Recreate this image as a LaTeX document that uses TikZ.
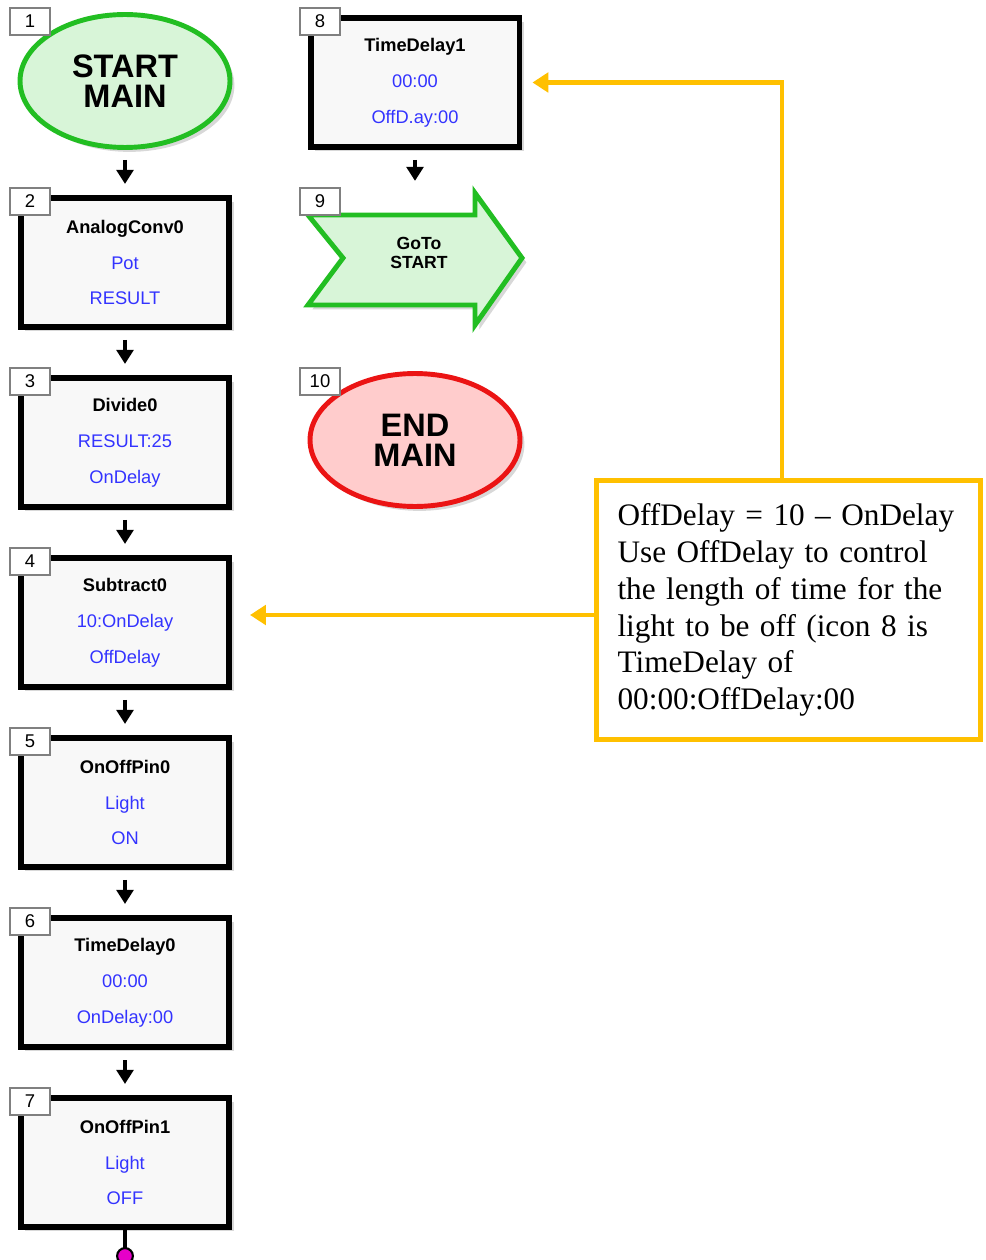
\documentclass[tikz,border=0pt]{standalone}
\usepackage{fontspec}
\setmainfont{Liberation Sans}
\newfontfamily\notefont{Liberation Serif}
\usetikzlibrary{arrows.meta,shapes.geometric,shadows}

\definecolor{startgreen}{RGB}{34,190,34}
\definecolor{startfill}{RGB}{216,245,216}
\definecolor{endred}{RGB}{235,20,20}
\definecolor{endfill}{RGB}{255,204,204}
\definecolor{iconblue}{RGB}{51,51,255}
\definecolor{iconfill}{RGB}{248,248,248}
\definecolor{noteorange}{RGB}{255,192,0}
\definecolor{pinmagenta}{RGB}{230,0,200}

\tikzset{
	softshadow/.style={drop shadow={opacity=0.3, shadow xshift=2.5pt, shadow yshift=-2.5pt}},
	icon/.style={draw=black, line width=3.4pt, fill=iconfill, softshadow, minimum width=4.18cm, minimum height=2.58cm, align=center, font=\fontsize{10.4}{20.4}\selectfont},
	terminal/.style={ellipse, line width=2.8pt, softshadow, minimum width=4.2cm, minimum height=2.66cm, align=center, inner sep=0pt, font=\bfseries\fontsize{18.5}{17}\selectfont},
	tag/.style={draw=gray, fill=white, line width=0.6pt, minimum width=0.8cm, minimum height=0.54cm, inner sep=0pt, font=\fontsize{10.5}{12}\selectfont},
	flowarrow/.style={line width=2.6pt, -{Triangle[width=9.5pt,length=8pt]}, shorten <=5.7pt, shorten >=6.3pt},
	noteline/.style={draw=noteorange, line width=2.8pt, -{Triangle[width=11pt,length=9pt]}},
}

\begin{document}
\begin{tikzpicture}[x=0.02cm, y=-0.02cm]
	\fill[white] (0,0) rectangle (985,1260);
	\useasboundingbox (0,0) rectangle (985,1260);
	
	% main column
	\node[terminal, draw=startgreen, fill=startfill] (start) at (125,81) {START\\MAIN};
	\node[icon] (b2) at (125,262.5) {\textbf{AnalogConv0}\\\textcolor{iconblue}{Pot}\\\textcolor{iconblue}{RESULT}};
	\node[icon] (b3) at (125,442.5) {\textbf{Divide0}\\\textcolor{iconblue}{RESULT:25}\\\textcolor{iconblue}{OnDelay}};
	\node[icon] (b4) at (125,622.5) {\textbf{Subtract0}\\\textcolor{iconblue}{10:OnDelay}\\\textcolor{iconblue}{OffDelay}};
	\node[icon] (b5) at (125,802.5) {\textbf{OnOffPin0}\\\textcolor{iconblue}{Light}\\\textcolor{iconblue}{ON}};
	\node[icon] (b6) at (125,982.5) {\textbf{TimeDelay0}\\\textcolor{iconblue}{00:00}\\\textcolor{iconblue}{OnDelay:00}};
	\node[icon] (b7) at (125,1162.5) {\textbf{OnOffPin1}\\\textcolor{iconblue}{Light}\\\textcolor{iconblue}{OFF}};
	\coordinate (pin) at (125,1256);
	
	% second column
	\node[icon] (b8) at (415,82.5) {\textbf{TimeDelay1}\\\textcolor{iconblue}{00:00}\\\textcolor{iconblue}{OffD.ay:00}};
	\coordinate (g9in) at (415,192);
	\draw[line width=2.8pt, draw=startgreen, fill=startfill, softshadow]
		(308,215) -- (475,215) -- (475,193) -- (522,258) -- (475,325) -- (475,305) -- (308,305) -- (343,258) -- cycle;
	\node[align=center, font=\bfseries\fontsize{10}{11.3}\selectfont] (g9) at (419,253) {GoTo\\START};
	\node[terminal, draw=endred, fill=endfill] (end) at (415,440) {END\\MAIN};
	
	% flow arrows
	\draw[flowarrow] (start) -- (b2);
	\draw[flowarrow] (b2) -- (b3);
	\draw[flowarrow] (b3) -- (b4);
	\draw[flowarrow] (b4) -- (b5);
	\draw[flowarrow] (b5) -- (b6);
	\draw[flowarrow] (b6) -- (b7);
	\draw[flowarrow] (b8) -- (g9in);
	\draw[line width=2.6pt] (b7) -- (pin);
	\draw[fill=pinmagenta, line width=1.2pt] (pin) circle [radius=4.5pt];
	
	% icon numbers
	\node[tag] (t1) at (30,21.5) {1};
	\node[tag] (t2) at (30,201.5) {2};
	\node[tag] (t3) at (30,381.5) {3};
	\node[tag] (t4) at (30,561.5) {4};
	\node[tag] (t5) at (30,741.5) {5};
	\node[tag] (t6) at (30,921.5) {6};
	\node[tag] (t7) at (30,1101.5) {7};
	\node[tag] (t8) at (320,21.5) {8};
	\node[tag] (t9) at (320,201.5) {9};
	\node[tag] (t10) at (320,381.5) {10};
	
	% note
	\node[draw=noteorange, fill=white, line width=2.8pt, minimum width=7.68cm, minimum height=5.18cm, text width=6.84cm, align=left, inner sep=0pt, font=\notefont\fontsize{17.8}{21}\selectfont] (note) at (788.5,610)
		{OffDelay = 10 – OnDelay\\Use OffDelay to control\\the length of time for the\\light to be off (icon 8 is\\TimeDelay of\\00:00:OffDelay:00};
	\coordinate (bend) at (782,83);
	\coordinate (n4) at (596,615);
	
	\draw[noteline, shorten >=5.7pt] (note.north -| bend) |- (b8.east);
	\draw[noteline, shorten >=10pt] (n4) -- (n4 -| b4.east);
\end{tikzpicture}
\end{document}
